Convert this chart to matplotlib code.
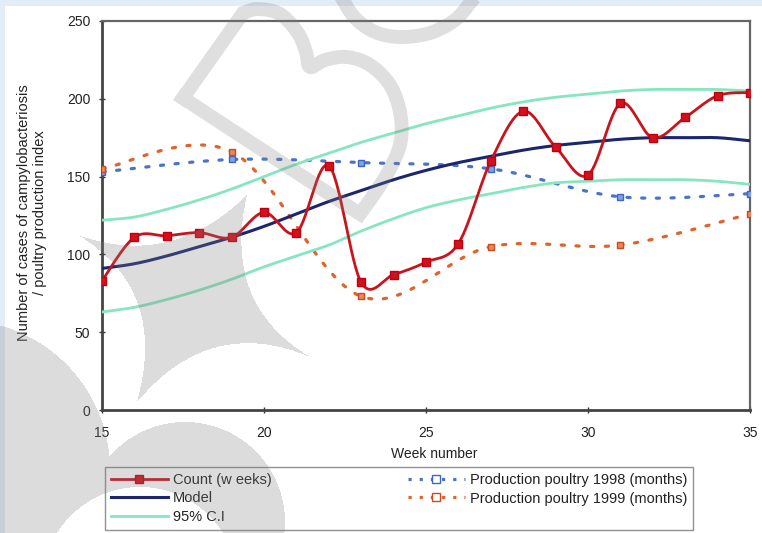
import numpy as np
import matplotlib
matplotlib.use("Agg")
import matplotlib.pyplot as plt
from matplotlib.patches import Rectangle
from matplotlib.path import Path
from matplotlib.lines import Line2D

plt.rcParams['font.family'] = ['Liberation Sans', 'DejaVu Sans']

weeks = list(range(15, 36))
count = [83, 111, 112, 114, 111, 127, 114, 157, 82, 87, 95, 107, 160, 192, 169, 151, 197, 175, 188, 202, 204]
model = [91, 94, 99, 105, 111, 118, 126, 134, 141, 148, 154, 159, 163, 167, 170, 172, 174, 175, 175, 175, 173]
ci_upper = [122, 124, 129, 135, 142, 150, 158, 165, 172, 178, 184, 189, 194, 198, 201, 203, 205, 206, 206, 206, 205]
ci_lower = [63, 66, 71, 77, 84, 92, 99, 106, 115, 123, 130, 135, 139, 143, 146, 147, 148, 148, 148, 147, 145]

month_weeks = [15, 19, 23, 27, 31, 35]
prod_1998 = [153, 161, 159, 155, 137, 139]
prod_1999 = [155, 166, 73, 105, 106, 126]

x_ticks = [15, 20, 25, 30, 35]
y_ticks = [0, 50, 100, 150, 200, 250]

labels = ['Count (w eeks)', 'Model', '95% C.I', 'Production poultry 1998 (months)',
          'Production poultry 1999 (months)']


def smooth(x, y, n=30):
    """Excel-style smoothed line (Bezier with 1/6 tangents) through the points."""
    P = np.column_stack([np.asarray(x, float), np.asarray(y, float)])
    m = len(P)
    out = []
    for i in range(m - 1):
        p0 = P[i - 1] if i > 0 else P[i]
        p1 = P[i]
        p2 = P[i + 1]
        p3 = P[i + 2] if i + 2 < m else P[i + 1]
        c1 = p1 + (p2 - p0) / 6.0
        c2 = p2 - (p3 - p1) / 6.0
        t = np.linspace(0, 1, n)[:, None]
        seg = ((1 - t) ** 3) * p1 + 3 * ((1 - t) ** 2) * t * c1 + 3 * (1 - t) * t ** 2 * c2 + t ** 3 * p2
        if i > 0:
            seg = seg[1:]
        out.append(seg)
    out = np.vstack(out)
    return out[:, 0], out[:, 1]


W, H = 762, 533
fig = plt.figure(figsize=(W / 100, H / 100), dpi=100)
fig.patch.set_facecolor('#e3edf8')
fig.add_artist(Rectangle((5 / W, 0), 1, 1 - 6 / H, transform=fig.transFigure,
                         facecolor='white', edgecolor='none', zorder=0))

ax = fig.add_axes([102 / W, 1 - 410 / H, 648 / W, 389 / H])
ax.set_facecolor('none')

red = '#c8141c'
navy = '#1c2670'
green = '#86e6bf'
blue = '#4a74c8'
orange = '#e0622c'
dots = (0, (1, 3.6))

# production series (dotted, smoothed)
sx, sy = smooth(month_weeks, prod_1998)
ax.plot(sx, sy, color=blue, lw=2.3, ls=dots, dash_capstyle='round', zorder=3)
ax.plot(month_weeks, prod_1998, ls='none', marker='s', ms=5, mfc='#7ea2e6', mec='#3d66c4', mew=1, zorder=4)
sx, sy = smooth(month_weeks, prod_1999)
ax.plot(sx, sy, color=orange, lw=2.3, ls=dots, dash_capstyle='round', zorder=3)
ax.plot(month_weeks, prod_1999, ls='none', marker='s', ms=5, mfc='#e8895a', mec='#cc4a1e', mew=1, zorder=4)

# CI
sx, sy = smooth(weeks, ci_upper)
ax.plot(sx, sy, color=green, lw=2, zorder=3)
sx, sy = smooth(weeks, ci_lower)
ax.plot(sx, sy, color=green, lw=2, zorder=3)

# Model
sx, sy = smooth(weeks, model)
ax.plot(sx, sy, color=navy, lw=2.2, zorder=5)

# Count
sx, sy = smooth(weeks, count)
ax.plot(sx, sy, color=red, lw=2, zorder=6)
ax.plot(weeks, count, ls='none', marker='s', ms=6, mfc='#d3101c', mec='#c00010', zorder=7)

ax.set_xlim(15, 35)
ax.set_ylim(0, 250)
ax.set_xticks(x_ticks)
ax.set_yticks(y_ticks)
ax.tick_params(axis='both', direction='inout', length=5, width=1, colors='#333333',
               labelsize=10, labelcolor='#222222')
ax.tick_params(axis='y', pad=6)
ax.tick_params(axis='x', pad=9)
for s in ['left', 'bottom']:
    ax.spines[s].set_color('#444444')
    ax.spines[s].set_linewidth(2)
for s in ['top', 'right']:
    ax.spines[s].set_color('#666666')
    ax.spines[s].set_linewidth(1.6)

fig.text(434 / W, 1 - 454 / H, 'Week number', ha='center', va='center', fontsize=10, color='#222222')
fig.text(32 / W, 1 - 213 / H,
         'Number of cases of campylobacteriosis\n/ poultry production index',
         rotation=90, ha='center', va='center', multialignment='center', fontsize=10.5,
         color='#222222', linespacing=1.25)

# legend
handles = [
    Line2D([], [], color=red, lw=2, marker='s', ms=6, mfc='#d3101c', mec='#c00010'),
    Line2D([], [], color=navy, lw=2.2),
    Line2D([], [], color=green, lw=2),
    Line2D([], [], color=blue, lw=2.3, ls=(0, (1, 2.5)), marker='s', ms=6, mfc='white', mec='#3d66c4', mew=1),
    Line2D([], [], color=orange, lw=2.3, ls=(0, (1, 2.5)), marker='s', ms=6, mfc='white', mec='#cc4a1e', mew=1),
]
leg = fig.legend(handles, labels, ncol=2, mode='expand',
                 bbox_to_anchor=(105 / W, 1 - 530 / H, 588 / W, 63 / H),
                 loc='upper left', fontsize=10.5, frameon=True, fancybox=False,
                 handlelength=3.9, handletextpad=0.35, labelspacing=0.32, borderpad=0.4,
                 borderaxespad=0)
leg.get_frame().set_edgecolor('#777777')
leg.get_frame().set_linewidth(1)
for t in leg.get_texts():
    t.set_color('#222222')

# ---- background watermark (light gray logo shapes) ----
wm = fig.add_axes([0, 0, 1, 1], zorder=20)
wm.set_xlim(0, W)
wm.set_ylim(H, 0)
wm.axis('off')
wm.patch.set_alpha(0)

yy, xx = np.mgrid[0:H, 0:W] + 0.5
mask = np.zeros((H, W), bool)
mask |= (xx + 40) ** 2 + (yy - 470) ** 2 < 150 ** 2
mask |= (xx - 185) ** 2 + (yy - 522) ** 2 < 100 ** 2
mask &= ~((xx - 140) ** 2 + (yy - 585) ** 2 < 98 ** 2)
L, T, R, B = (78, 235), (247, 195), (310, 357), (137, 402)
verts = [L, (171.5, 269), T, (221.5, 304), R, (210.5, 314.5), B, (168.5, 289.5), L]
codes = [Path.MOVETO] + [Path.CURVE3, Path.CURVE3] * 4
astroid = Path(verts, codes)
inside = astroid.contains_points(np.column_stack([xx.ravel(), yy.ravel()])).reshape(H, W)
mask |= inside
img = np.zeros((H, W, 4))
img[..., :3] = 0.5
img[..., 3] = np.where(mask, 0.27, 0.0)
wm.imshow(img, extent=(0, W, H, 0), interpolation='nearest', zorder=1)

b_curve = [(243, 13), (258, 9), (280, 14), (298, 33), (306, 52), (310, 67), (325, 60), (347, 57),
           (370, 65), (390, 85), (400, 112), (401, 140), (392, 165), (377, 190), (360, 214)]
bx, by = smooth([p[0] for p in b_curve], [p[1] for p in b_curve], n=12)
bx = np.concatenate([[183], bx, [183]])
by = np.concatenate([[98], by, [98]])
wm.plot(bx, by, color=(0.5, 0.5, 0.5), alpha=0.25, lw=10, solid_joinstyle='miter', zorder=2)
arc = [(343, 0), (355, 18), (375, 32), (400, 37), (430, 33), (455, 20), (470, 3)]
ax_, ay_ = smooth([p[0] for p in arc], [p[1] for p in arc], n=12)
wm.plot(ax_, ay_, color=(0.5, 0.5, 0.5), alpha=0.25, lw=10, zorder=2)

fig.savefig('out.png', dpi=100)
